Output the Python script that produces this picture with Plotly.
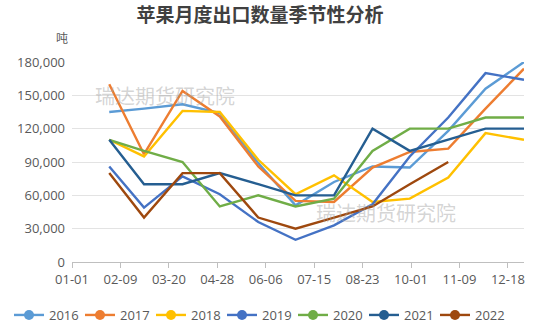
import pandas as pd
import plotly.graph_objects as go

# Monthly apple export volume (tonnes), one list per year
months = ["01", "02", "03", "04", "05", "06", "07", "08", "09", "10", "11", "12"]
y2016 = [135000, 138000, 142000, 134000, 89000, 51000, 72000, 86000, 85000, 118000, 156000, 180000]
y2017 = [160000, 97000, 154000, 131000, 86000, 55000, 54000, 85000, 99000, 102000, 138000, 174000]
y2018 = [110000, 95000, 136000, 135000, 92000, 61000, 78000, 54000, 57000, 76000, 116000, 110000]
y2019 = [86000, 49000, 77000, 61000, 36000, 20000, 33000, 52000, 95000, 130000, 170000, 164000]
y2020 = [110000, 100000, 90000, 50000, 60000, 50000, 57000, 100000, 120000, 120000, 130000, 130000]
y2021 = [110000, 70000, 70000, 80000, 70000, 60000, 60000, 120000, 100000, 110000, 120000, 120000]
y2022 = [80000, 40000, 80000, 80000, 40000, 30000, 40000, 50000, 70000, 90000]

years = ["2016", "2017", "2018", "2019", "2020", "2021", "2022"]
series = [y2016, y2017, y2018, y2019, y2020, y2021, y2022]
colors = ["#5B9BD5", "#ED7D31", "#FFC000", "#4472C4", "#70AD47", "#255E91", "#9E480E"]

tick_labels = ["01-01", "02-09", "03-20", "04-28", "06-06", "07-15", "08-23", "10-01", "11-09", "12-18"]

# Each month's value is placed at the month's last day on a common (non-leap) year
month_ends = [pd.Timestamp(f"2021-{m}-01") + pd.offsets.MonthEnd(0) for m in months]
tick_vals = [pd.Timestamp(f"2021-{t}") for t in tick_labels]

fig = go.Figure()
for name, vals, col in zip(years, series, colors):
    fig.add_trace(go.Scatter(
        x=month_ends[:len(vals)], y=vals, mode="lines", name=name,
        line=dict(color=col, width=2.4), showlegend=False,
    ))
    # legend entry: line with a round marker
    fig.add_trace(go.Scatter(
        x=[None], y=[None], mode="lines+markers", name=name,
        line=dict(color=col, width=2.4), marker=dict(color=col, size=10),
    ))

grey = "#595959"
fig.update_layout(
    width=550, height=330,
    margin=dict(l=72, r=26, t=62, b=68, autoexpand=False),
    paper_bgcolor="white", plot_bgcolor="white",
    font=dict(family="Open Sans, Noto Sans CJK SC", size=13, color=grey),
    title=dict(text="<b>苹果月度出口数量季节性分析</b>", x=260 / 550, xanchor="center",
               y=1 - 15 / 330, yanchor="middle",
               font=dict(family="Noto Sans CJK SC", size=19, color="#404040")),
    xaxis=dict(
        type="date", range=["2021-01-01", "2021-12-31"],
        tickvals=tick_vals, ticktext=tick_labels,
        showgrid=False, showline=True, linecolor="#BFBFBF", linewidth=1,
        ticks="outside", ticklen=5, tickcolor="#BFBFBF",
        tickfont=dict(size=13, color=grey),
    ),
    yaxis=dict(
        range=[0, 180000], dtick=30000, tickformat=",",
        showgrid=True, gridcolor="#E3E3E3", gridwidth=1,
        zeroline=False, showline=False,
        tickfont=dict(size=13, color=grey), ticklabelstandoff=6,
    ),
    legend=dict(orientation="h", x=(9 - 72) / 452, xanchor="left",
                y=-0.265, yanchor="middle",
                font=dict(size=13, color=grey), itemwidth=30, tracegroupgap=0,
                entrywidth=26, entrywidthmode="pixels"),
    annotations=[
        dict(text="吨", xref="paper", yref="paper", x=-0.005, y=1.12,
             xanchor="right", yanchor="middle", showarrow=False,
             font=dict(family="Noto Sans CJK SC", size=12, color=grey)),
        dict(text="瑞达期货研究院", xref="paper", yref="paper",
             x=(165 - 72) / 452, y=(262 - 95) / 200, showarrow=False,
             xanchor="center", yanchor="middle",
             font=dict(family="Noto Sans CJK SC", size=20, color="rgba(160,160,160,0.45)")),
        dict(text="瑞达期货研究院", xref="paper", yref="paper",
             x=(386 - 72) / 452, y=(262 - 212) / 200, showarrow=False,
             xanchor="center", yanchor="middle",
             font=dict(family="Noto Sans CJK SC", size=20, color="rgba(160,160,160,0.45)")),
    ],
)

fig.write_html("out.html")
